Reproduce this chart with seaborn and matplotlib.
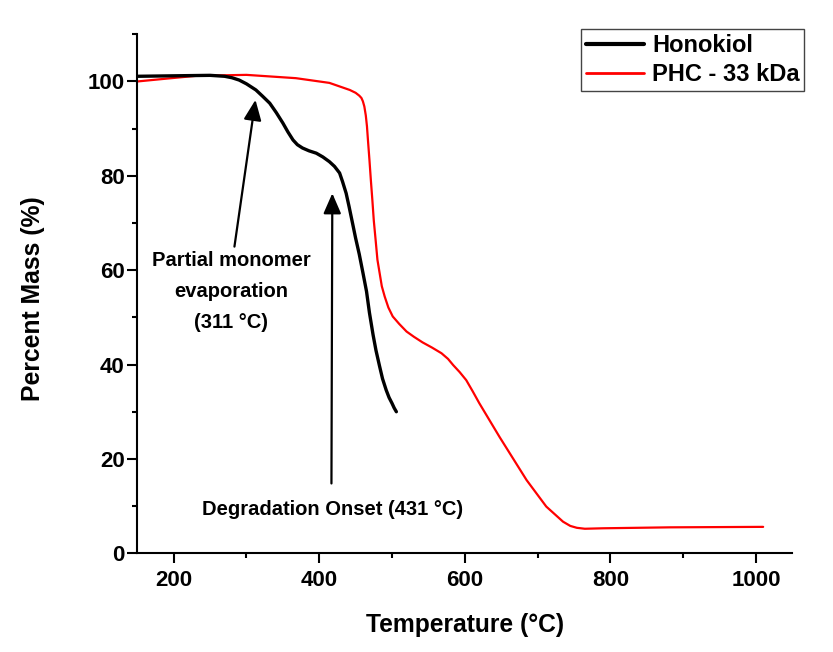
import numpy as np
import pandas as pd
import matplotlib
matplotlib.use("Agg")
import matplotlib.pyplot as plt
from matplotlib.ticker import MultipleLocator
import seaborn as sns

# ---- data ----
honokiol_T = [150, 200, 250, 270, 280, 290, 300, 313, 322, 332, 341, 350, 357, 364,
              370, 377, 386, 396, 405, 414, 421, 428, 432, 437, 441, 446, 450, 455,
              460, 465, 469, 474, 478, 483, 487, 492, 496, 500, 503, 506]
honokiol_M = [101.1, 101.2, 101.3, 101.1, 100.8, 100.3, 99.5, 98.2, 96.9, 95.4, 93.4,
              91.2, 89.3, 87.6, 86.6, 85.9, 85.3, 84.8, 84.0, 83.0, 82.0, 80.6, 78.8,
              76.3, 73.5, 69.8, 66.8, 63.4, 59.5, 55.5, 51.0, 46.3, 43.0, 39.6, 37.0,
              34.6, 33.0, 31.8, 30.8, 30.0]

phc_T = [150, 190, 231, 300, 368, 414, 442, 450, 455, 458, 460, 462, 464, 465.6, 467,
         469, 471, 473, 475, 477.5, 480, 483, 486, 490, 495, 501, 510, 520, 530, 542,
         555, 568, 577, 584, 593, 602, 611, 620, 648, 685, 712, 735, 745, 754, 765,
         790, 882, 1010]
phc_M = [100.0, 100.6, 101.2, 101.4, 100.7, 99.7, 98.2, 97.6, 97.0, 96.5, 95.8, 94.7,
         92.8, 90.5, 87.5, 83.4, 79.0, 74.9, 70.5, 66.4, 62.2, 59.4, 56.6, 54.4, 52.1,
         50.2, 48.6, 47.0, 45.9, 44.7, 43.6, 42.4, 41.2, 39.9, 38.4, 36.7, 34.3, 31.8,
         24.6, 15.5, 9.9, 6.7, 5.8, 5.4, 5.2, 5.3, 5.5, 5.6]

series_names = ["Honokiol", "PHC - 33 kDa"]
x_ticks = [200, 400, 600, 800, 1000]
y_ticks = [0, 20, 40, 60, 80, 100]

df = pd.concat([
    pd.DataFrame({"T": honokiol_T, "M": honokiol_M, "Sample": series_names[0]}),
    pd.DataFrame({"T": phc_T, "M": phc_M, "Sample": series_names[1]}),
])

sns.set_style("ticks")
plt.rcParams["font.family"] = ["Liberation Sans", "DejaVu Sans"]
plt.rcParams["font.weight"] = "bold"
plt.rcParams["text.color"] = "black"
plt.rcParams["axes.labelcolor"] = "black"
plt.rcParams["xtick.color"] = "black"
plt.rcParams["ytick.color"] = "black"

fig = plt.figure(figsize=(8.33, 6.52), dpi=100)
ax = fig.add_axes([0.1648, 0.1514, 0.7863, 0.7960])

# draw PHC first so Honokiol is on top
sns.lineplot(data=df[df.Sample == series_names[1]], x="T", y="M", color="#ff0000",
             lw=1.6, ax=ax, estimator=None, sort=False, label=series_names[1], zorder=2)
sns.lineplot(data=df[df.Sample == series_names[0]], x="T", y="M", color="black",
             lw=2.4, ax=ax, estimator=None, sort=False, label=series_names[0], zorder=3)
for ln in ax.get_lines():
    ln.set_solid_joinstyle("round")
    ln.set_solid_capstyle("round")

ax.set_xlim(150, 1050)
ax.set_ylim(0, 110)
ax.set_xticks(x_ticks)
ax.set_yticks(y_ticks)
ax.xaxis.set_minor_locator(MultipleLocator(100))
ax.yaxis.set_minor_locator(MultipleLocator(10))
ax.tick_params(which="major", length=7.2, width=1.5, labelsize=16, pad=5,
               colors="black")
ax.tick_params(axis="y", which="major", pad=2)
ax.tick_params(which="minor", length=3.6, width=1.5, colors="black")
for lab in ax.get_xticklabels() + ax.get_yticklabels():
    lab.set_fontweight("bold")

for s in ["top", "right"]:
    ax.spines[s].set_visible(False)
for s in ["left", "bottom"]:
    ax.spines[s].set_linewidth(1.5)
    ax.spines[s].set_color("black")

ax.set_xlabel("Temperature (°C)", fontsize=17.7, fontweight="bold", color="black")
ax.set_ylabel("Percent Mass (%)", fontsize=17.8, fontweight="bold", color="black")
ax.xaxis.set_label_coords(0.5, -0.138)
ax.xaxis.label.set_va("center")
ax.yaxis.set_label_coords(-0.159, 0.49)
ax.yaxis.label.set_va("center")

# legend
handles, labels = ax.get_legend_handles_labels()
order = [labels.index(n) for n in series_names]
leg = ax.legend([handles[i] for i in order], [labels[i] for i in order],
                loc="upper right", bbox_to_anchor=(1.0183, 1.0096),
                fontsize=17, frameon=True, fancybox=False, framealpha=1,
                edgecolor="#444444", handlelength=2.45, handletextpad=0.35,
                labelspacing=0.25, borderpad=0.2, borderaxespad=0.0)
leg.get_frame().set_linewidth(1.0)
for t in leg.get_texts():
    t.set_fontweight("bold")
    t.set_color("black")
leg.legend_handles[0].set_linewidth(3.0)
leg.legend_handles[1].set_linewidth(2.0)

# annotations
arrow_kw = dict(arrowstyle="-|>,head_length=0.62,head_width=0.27", color="black",
                lw=1.6, mutation_scale=20, shrinkA=0, shrinkB=0)
ax.annotate("", xy=(312.4, 96.1), xytext=(283.5, 65.0), arrowprops=arrow_kw, zorder=4)
ax.annotate("", xy=(418.0, 76.3), xytext=(416.8, 14.8), arrowprops=arrow_kw, zorder=4)

ann_fs = 14.5
ax.text(279, 62.1, "Partial monomer", ha="center", va="center", fontsize=ann_fs,
        fontweight="bold", color="black")
ax.text(279, 55.5, "evaporation", ha="center", va="center", fontsize=ann_fs,
        fontweight="bold", color="black")
ax.text(279, 48.9, "(311 °C)", ha="center", va="center", fontsize=ann_fs,
        fontweight="bold", color="black")
ax.text(417.7, 9.2, "Degradation Onset (431 °C)", ha="center", va="center",
        fontsize=ann_fs, fontweight="bold", color="black")

fig.savefig("out.png", dpi=100, facecolor="white")
